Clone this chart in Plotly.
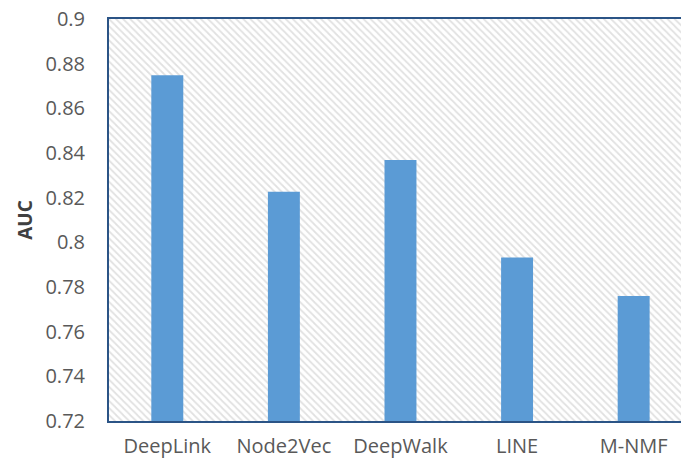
import plotly.graph_objects as go

categories = ["DeepLink", "Node2Vec", "DeepWalk", "LINE", "M-NMF"]
auc_values = [0.8748, 0.8226, 0.8369, 0.7932, 0.7760]
y_ticks = [0.72, 0.74, 0.76, 0.78, 0.8, 0.82, 0.84, 0.86, 0.88, 0.9]
y_tick_text = ["0.72", "0.74", "0.76", "0.78", "0.8", "0.82", "0.84", "0.86", "0.88", "0.9"]

y_range = [0.72, 0.9]
x_range = [-0.5, 4.406]
x_pos = list(range(len(categories)))

fig = go.Figure()

# hatched plot-area background
fig.add_trace(go.Bar(
    x=[(x_range[0] + x_range[1]) / 2], y=[y_range[1] - y_range[0]], base=[y_range[0]],
    width=[x_range[1] - x_range[0]],
    marker=dict(color="white", line=dict(width=0),
                pattern=dict(shape="\\", fgcolor="#c4c4c4", bgcolor="white", size=5, solidity=0.35)),
    hoverinfo="skip", showlegend=False,
))

fig.add_trace(go.Bar(
    x=x_pos, y=[v - y_range[0] for v in auc_values], base=[y_range[0]] * len(auc_values),
    width=0.274,
    marker=dict(color="#5B9BD5", line=dict(width=0)),
    showlegend=False,
))

fig.update_layout(
    width=681, height=464,
    margin=dict(l=109, r=0, t=19, b=43),
    paper_bgcolor="white", plot_bgcolor="white",
    barmode="overlay",
    font=dict(family="Open Sans", size=18, color="#595959"),
)
fig.update_xaxes(
    range=x_range, tickvals=x_pos, ticktext=categories,
    showgrid=False, zeroline=False, automargin=False,
    showline=True, linecolor="#2B5486", linewidth=2, mirror=True,
    ticks="outside", ticklen=6, tickcolor="rgba(0,0,0,0)",
    tickfont=dict(size=20, color="#595959"),
)
fig.update_yaxes(
    range=y_range, tickvals=y_ticks, ticktext=y_tick_text,
    showgrid=False, zeroline=False, automargin=False,
    showline=True, linecolor="#2B5486", linewidth=2,
    ticks="outside", ticklen=18, tickcolor="rgba(0,0,0,0)",
    tickfont=dict(size=20, color="#595959"),
    title=dict(text="<b>AUC</b>", font=dict(size=19, color="#404040"), standoff=8),
)

fig.write_html("out.html", config={"displayModeBar": False},
               post_script="document.body.style.margin='0';")
